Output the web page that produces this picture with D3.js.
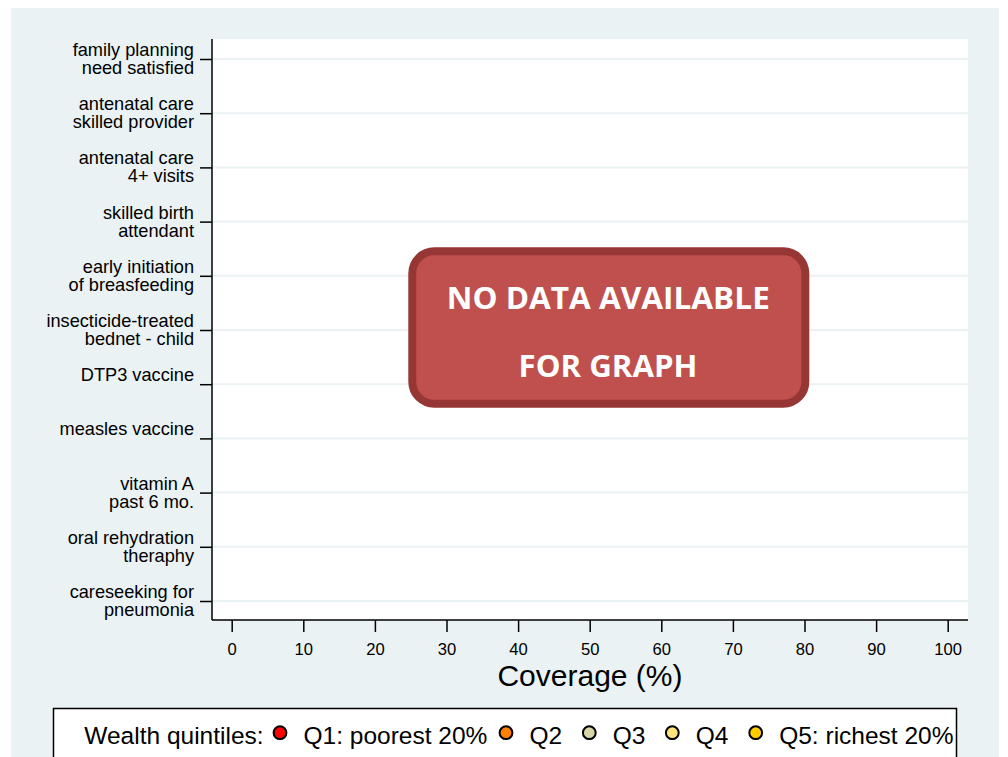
<!DOCTYPE html>
<html>
<head>
<meta charset="utf-8">
<script src="https://cdn.jsdelivr.net/npm/d3@7"></script>
<style>
  body { margin: 0; background: #fff; }
  svg { display: block; }
  text { font-family: "Liberation Sans", Arial, sans-serif; fill: #000; }
</style>
</head>
<body>
<div id="chart"></div>
<script>
// indicators on the y axis (second line may be empty)
var indicators = [
  ["family planning", "need satisfied"],
  ["antenatal care", "skilled provider"],
  ["antenatal care", "4+ visits"],
  ["skilled birth", "attendant"],
  ["early initiation", "of breasfeeding"],
  ["insecticide-treated", "bednet - child"],
  ["DTP3 vaccine", ""],
  ["measles vaccine", ""],
  ["vitamin A", "past 6 mo."],
  ["oral rehydration", "theraphy"],
  ["careseeking for", "pneumonia"]
];
var xTicks = [0, 10, 20, 30, 40, 50, 60, 70, 80, 90, 100];
var quintiles = ["Q1: poorest 20%", "Q2", "Q3", "Q4", "Q5: richest 20%"];
var quintileColors = ["#ff0000", "#ff8000", "#d6d6a6", "#ffe47e", "#ffcc00"];
// no coverage values for this country
var coverage = [];

var width = 1008, height = 757;
var bg = "rgb(234,242,243)";

var svg = d3.select("#chart").append("svg")
  .attr("width", width)
  .attr("height", height);

// graph region
svg.append("rect")
  .attr("x", 11).attr("y", 8)
  .attr("width", 988).attr("height", 760)
  .attr("fill", bg);

var plot = { left: 212, right: 968, top: 39, bottom: 620 };

svg.append("rect")
  .attr("x", plot.left).attr("y", plot.top)
  .attr("width", plot.right - plot.left)
  .attr("height", plot.bottom - plot.top)
  .attr("fill", "#fff");

var x = d3.scaleLinear().domain([0, 100]).range([231.7, 947.7]);
var y = d3.scalePoint()
  .domain(indicators.map(function (d, i) { return i; }))
  .range([59, 601]);

// gridlines
svg.append("g").selectAll("line")
  .data(y.domain())
  .enter().append("line")
  .attr("x1", plot.left).attr("x2", plot.right)
  .attr("y1", function (d) { return y(d); })
  .attr("y2", function (d) { return y(d); })
  .attr("stroke", bg)
  .attr("stroke-width", 2);

// points (none here)
svg.append("g").selectAll("circle")
  .data(coverage)
  .enter().append("circle")
  .attr("cx", function (d) { return x(d.value); })
  .attr("cy", function (d) { return y(d.row); })
  .attr("r", 6)
  .attr("fill", function (d) { return quintileColors[d.q]; })
  .attr("stroke", "#000");

// y axis
var yAxis = svg.append("g")
  .attr("transform", "translate(" + plot.left + ",0)")
  .call(d3.axisLeft(y).tickSize(12).tickFormat(""));
yAxis.select(".domain")
  .attr("d", "M0," + plot.top + "V" + plot.bottom);
yAxis.selectAll("line, path").attr("stroke", "#000").attr("stroke-width", 1.5);

var ylab = svg.append("g").selectAll("g")
  .data(indicators)
  .enter().append("g");
ylab.each(function (d, i) {
  var g = d3.select(this);
  [d[0], d[1]].forEach(function (line, k) {
    if (!line) return;
    g.append("text")
      .attr("x", 194)
      .attr("y", y(i) + (k === 0 ? -3 : 15))
      .attr("text-anchor", "end")
      .style("font-size", "18.2px")
      .text(line);
  });
});

// x axis
var xAxis = svg.append("g")
  .attr("transform", "translate(0," + plot.bottom + ")")
  .call(d3.axisBottom(x).tickValues(xTicks).tickSize(12));
xAxis.select(".domain")
  .attr("d", "M" + plot.left + ",0H" + plot.right);
xAxis.selectAll("line, path").attr("stroke", "#000").attr("stroke-width", 1.5);
xAxis.selectAll("text")
  .attr("y", 35).attr("dy", 0)
  .style("font-size", "16.6px")
  .style("font-family", "'Liberation Sans', Arial, sans-serif")
  .attr("fill", "#000");

svg.append("text")
  .attr("x", 590).attr("y", 686)
  .attr("text-anchor", "middle")
  .style("font-size", "30px")
  .text("Coverage (%)");

// no data notice
var box = svg.append("g");
box.append("rect")
  .attr("x", 412.3).attr("y", 251.3)
  .attr("width", 393).attr("height", 152.4)
  .attr("rx", 22).attr("ry", 22)
  .attr("fill", "#c0504d")
  .attr("stroke", "#963735")
  .attr("stroke-width", 8);
box.append("text")
  .attr("x", 608.3).attr("y", 309)
  .attr("text-anchor", "middle")
  .attr("textLength", 323).attr("lengthAdjust", "spacingAndGlyphs")
  .style("font-family", "'Open Sans', sans-serif")
  .style("font-weight", "bold")
  .style("font-size", "31px")
  .style("fill", "#fff")
  .text("NO DATA AVAILABLE");
box.append("text")
  .attr("x", 608).attr("y", 376.7)
  .attr("text-anchor", "middle")
  .attr("textLength", 179).attr("lengthAdjust", "spacingAndGlyphs")
  .style("font-family", "'Open Sans', sans-serif")
  .style("font-weight", "bold")
  .style("font-size", "31px")
  .style("fill", "#fff")
  .text("FOR GRAPH");

// legend
var legend = svg.append("g");
legend.append("rect")
  .attr("x", 53.5).attr("y", 708.5)
  .attr("width", 903).attr("height", 80)
  .attr("fill", "#fff")
  .attr("stroke", "#000")
  .attr("stroke-width", 1.5);

var ly = 744;
var keyX = [280, 506, 589.3, 672.3, 755.7];
legend.append("text")
  .attr("x", 84.3).attr("y", ly)
  .style("font-size", "24.5px")
  .text("Wealth quintiles:");

quintiles.forEach(function (q, i) {
  legend.append("circle")
    .attr("cx", keyX[i]).attr("cy", 732.7)
    .attr("r", 6.4)
    .attr("fill", quintileColors[i])
    .attr("stroke", "#000")
    .attr("stroke-width", 2);
  legend.append("text")
    .attr("x", keyX[i] + 23.5).attr("y", ly)
    .style("font-size", "24.5px")
    .text(q);
});
</script>
</body>
</html>
